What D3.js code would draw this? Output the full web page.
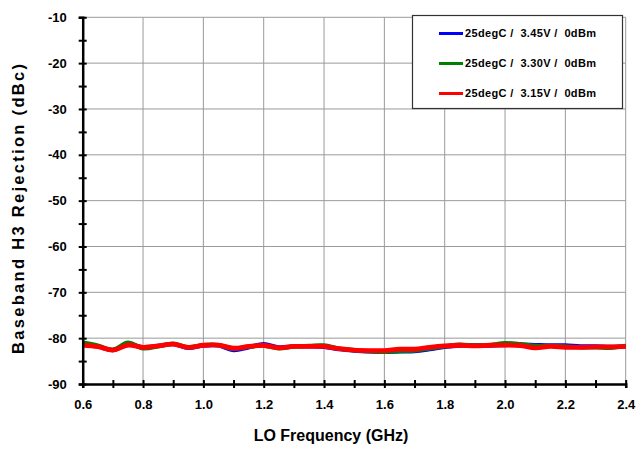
<!DOCTYPE html>
<html><head><meta charset="utf-8">
<script src="https://cdn.jsdelivr.net/npm/d3@7"></script>
<style>body{margin:0;background:#fff;} svg{display:block;}</style>
</head><body>
<svg id="c" width="636" height="451"></svg>
<script>
const freq = [0.6,0.65,0.7,0.75,0.8,0.85,0.9,0.95,1.0,1.05,1.1,1.15,1.2,1.25,1.3,1.35,1.4,1.45,1.5,1.55,1.6,1.65,1.7,1.75,1.8,1.85,1.9,1.95,2.0,2.05,2.1,2.15,2.2,2.25,2.3,2.35,2.4];
const v345 = [-81.3,-81.8,-82.6,-81.4,-82.0,-81.7,-81.3,-82.1,-81.6,-81.6,-82.6,-82.0,-81.3,-82.0,-81.8,-81.8,-81.9,-82.4,-82.7,-82.9,-83.0,-82.9,-82.8,-82.4,-81.9,-81.6,-81.6,-81.6,-81.5,-81.4,-81.5,-81.6,-81.6,-81.8,-81.8,-81.9,-81.8];
const v330 = [-81.0,-81.6,-82.5,-81.0,-82.2,-81.8,-81.2,-82.0,-81.5,-81.5,-82.3,-81.9,-81.6,-82.2,-81.8,-81.7,-81.6,-82.3,-82.6,-82.9,-83.0,-82.8,-82.7,-82.2,-81.8,-81.4,-81.6,-81.5,-81.1,-81.3,-81.7,-81.7,-81.8,-82.0,-82.0,-82.1,-81.7];
const v315 = [-81.5,-81.85,-82.6,-81.5,-82.0,-81.7,-81.3,-82.0,-81.55,-81.5,-82.2,-81.8,-81.6,-82.1,-81.8,-81.8,-81.8,-82.3,-82.6,-82.7,-82.7,-82.4,-82.4,-82.0,-81.7,-81.55,-81.7,-81.55,-81.5,-81.6,-82.1,-81.8,-82.0,-82.0,-81.9,-81.9,-81.8];
const seriesNames = ["25degC /  3.45V /  0dBm","25degC /  3.30V /  0dBm","25degC /  3.15V /  0dBm"];
const seriesColors = ["#0000ff","#008000","#ff0000"];
const xTicks = [0.6,0.8,1.0,1.2,1.4,1.6,1.8,2.0,2.2,2.4];
const yTicks = [-90,-80,-70,-60,-50,-40,-30,-20,-10];
const xTitle = "LO Frequency (GHz)";
const yTitle = "Baseband H3 Rejection (dBc)";

const svg = d3.select("#c");
const x = d3.scaleLinear().domain([0.6,2.4]).range([82.7,625.7]);
const y = d3.scaleLinear().domain([-90,-10]).range([384,17.3]);
const font = "Arial, 'Liberation Sans', sans-serif";

// grid
const g = svg.append("g");
g.selectAll("line.vg").data(xTicks.slice(1)).enter().append("line")
  .attr("x1",d=>x(d)).attr("x2",d=>x(d)).attr("y1",y(-10)).attr("y2",y(-90))
  .attr("stroke","#9a9a9a").attr("stroke-width",1);
g.selectAll("line.hg").data(yTicks.slice(1)).enter().append("line")
  .attr("x1",x(0.6)).attr("x2",x(2.4)).attr("y1",d=>y(d)).attr("y2",d=>y(d))
  .attr("stroke","#9a9a9a").attr("stroke-width",1);

// series
const series = [v345,v330,v315];
const line = d3.line().x((d,i)=>x(freq[i])).y(d=>y(d)).curve(d3.curveCatmullRom.alpha(0.5));
series.forEach((s,k)=>{
  svg.append("path").datum(s).attr("d",line).attr("fill","none")
    .attr("stroke",seriesColors[k]).attr("stroke-width",k===2?4.8:4.3).attr("stroke-linejoin","round");
});

// axes
const xMinor = d3.range(0.6,2.4001,0.1);
const yMinor = d3.range(-90,-9.99,5);
const xAxis = svg.append("g").attr("transform",`translate(0,${y(-90)})`)
  .call(d3.axisBottom(x).tickValues(xMinor).tickSize(4).tickFormat(""));
xAxis.selectAll(".tick line").attr("y1",-4).attr("y2",4).attr("stroke","#000").attr("stroke-width",2);
xAxis.select(".domain").attr("stroke","#000").attr("stroke-width",2.5);
const xLab = svg.append("g").attr("transform",`translate(0,${y(-90)})`)
  .call(d3.axisBottom(x).tickValues(xTicks).tickSize(0).tickPadding(16).tickFormat(d=>d.toFixed(1)));
xLab.select(".domain").remove();
xLab.selectAll("text").attr("font-family",font).attr("font-weight","bold").attr("font-size","13px").attr("fill","#000");

const yAxis = svg.append("g").attr("transform",`translate(${x(0.6)},0)`)
  .call(d3.axisLeft(y).tickValues(yMinor).tickSize(4).tickFormat(""));
yAxis.selectAll(".tick line").attr("x1",-4).attr("x2",4).attr("stroke","#000").attr("stroke-width",2);
yAxis.select(".domain").attr("stroke","#000").attr("stroke-width",2.5);
const yLab = svg.append("g").attr("transform",`translate(${x(0.6)},0)`)
  .call(d3.axisLeft(y).tickValues(yTicks).tickSize(0).tickPadding(16).tickFormat(d=>String(d)));
yLab.select(".domain").remove();
yLab.selectAll("text").attr("font-family",font).attr("font-weight","bold").attr("font-size","13px").attr("fill","#000");

// titles
svg.append("text").attr("x",331).attr("y",441).attr("text-anchor","middle")
  .attr("font-family",font).attr("font-weight","bold").attr("font-size","16px").text(xTitle);
svg.append("text").attr("transform","translate(24,209) rotate(-90)").attr("text-anchor","middle")
  .attr("font-family",font).attr("font-weight","bold").attr("font-size","16.5px")
  .attr("textLength",290).attr("lengthAdjust","spacing").text(yTitle);

// legend
const lg = svg.append("g");
lg.append("rect").attr("x",412.5).attr("y",15.5).attr("width",210).attr("height",93)
  .attr("fill","#fff").attr("stroke","#333").attr("stroke-width",1.2);
seriesNames.forEach((n,k)=>{
  const yy = 33.5 + k*30;
  lg.append("line").attr("x1",439).attr("x2",463).attr("y1",yy).attr("y2",yy)
    .attr("stroke",seriesColors[k]).attr("stroke-width",3);
  lg.append("text").attr("x",465).attr("y",yy+3.8).attr("font-family",font)
    .attr("font-weight","bold").attr("font-size","11px").style("white-space","pre")
    .attr("textLength",131).attr("lengthAdjust","spacing").text(n);
});
</script>
</body></html>
